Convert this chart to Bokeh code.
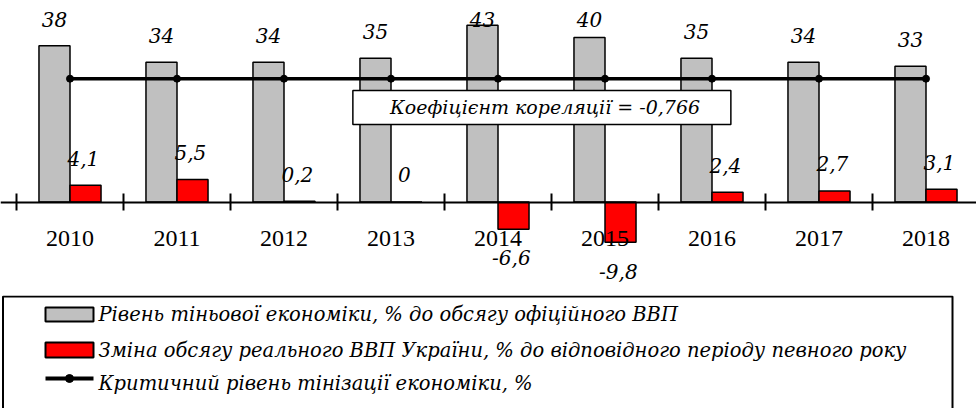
from bokeh.plotting import figure
from bokeh.models import Range1d, LinearAxis, FixedTicker, ColumnDataSource
from bokeh.layouts import column
from bokeh.core.properties import value
from bokeh.embed import file_html
from bokeh.resources import INLINE

# ---------------- data ----------------
years = ["2010", "2011", "2012", "2013", "2014", "2015", "2016", "2017", "2018"]
shadow_level = [38, 34, 34, 35, 43, 40, 35, 34, 33]
gdp_change = [4.1, 5.5, 0.2, 0, -6.6, -9.8, 2.4, 2.7, 3.1]
critical_level = [30, 30, 30, 30, 30, 30, 30, 30, 30]
correlation_text = "Коефіцієнт кореляції = -0,766"
legend_labels = [
    "Рівень тіньової економіки, % до обсягу офіційного ВВП",
    "Зміна обсягу реального ВВП України, % до відповідного періоду певного року",
    "Критичний рівень тінізації економіки, %",
]

# ---------------- layout constants ----------------
W = 976
H_CHART = 295
H_LEG = 113
PX_PER_CAT = 107.0
PX_PER_UNIT = 4.11
ZERO_PX = 201.5
FIRST_EDGE_PX = 16.0
BAR_W = 0.29
GRAY = "#C0C0C0"
RED = "#FF0000"
IFONT = value("DejaVu Serif")

def fmt(v):
    return ("%g" % v).replace(".", ",")

n = len(years)
centers = [i + 0.5 for i in range(n)]
edges = [float(i) for i in range(n + 1)]
gray_x = [c - BAR_W / 2 for c in centers]
red_x = [c + BAR_W / 2 for c in centers]

x0 = -FIRST_EDGE_PX / PX_PER_CAT
x1 = x0 + W / PX_PER_CAT
y1 = ZERO_PX / PX_PER_UNIT
y0 = -(H_CHART - ZERO_PX) / PX_PER_UNIT

p = figure(width=W, height=H_CHART, x_range=Range1d(x0, x1), y_range=Range1d(y0, y1),
           output_backend="svg", toolbar_location=None, min_border=0,
           x_axis_location=None, y_axis_location=None,
           outline_line_color=None, background_fill_color="white",
           border_fill_color="white")
p.grid.visible = False

src = ColumnDataSource(dict(
    gx=gray_x, rx=red_x, cx=centers, shadow=shadow_level, gdp=gdp_change,
    crit=critical_level,
    slab=[fmt(v) for v in shadow_level],
    glab=[fmt(v) for v in gdp_change],
    sy=[min(v + 6.5, y1 - 4.6) for v in shadow_level],
    gy=[v + 6.6 if v >= 0 else v - 7.0 for v in gdp_change],
    glx=[x - 0.02 for x in red_x],
))

p.vbar(x="gx", top="shadow", bottom=0, width=BAR_W, source=src,
       fill_color=GRAY, line_color="black", line_width=1.5)
p.vbar(x="rx", top="gdp", bottom=0, width=BAR_W, source=src,
       fill_color=RED, line_color="black", line_width=1.5)
p.line(x="cx", y="crit", source=src, line_color="black", line_width=3.5)
p.scatter(x="cx", y="crit", source=src, size=7, color="black")

# correlation box
box_x = 4.91
box_y = 23.0
p.rect(x=[box_x], y=[box_y], width=378, height=34, width_units="screen",
       height_units="screen", fill_color="white", line_color="black", line_width=1.5)
p.text(x=[box_x + 0.03], y=[box_y], text=[correlation_text], text_font=IFONT,
       text_font_style="italic", text_font_size="19px", text_align="center",
       text_baseline="middle", text_color="black")

# value labels
p.text(x="gx", y="sy", text="slab", source=src, text_font=IFONT,
       text_font_style="italic", text_font_size="20px", text_align="center",
       text_baseline="middle", text_color="black")
p.text(x="glx", y="gy", text="glab", source=src, text_font=IFONT,
       text_font_style="italic", text_font_size="20px", text_align="center",
       text_baseline="middle", text_color="black")

# category axis at zero
ax = LinearAxis(ticker=FixedTicker(ticks=centers, minor_ticks=edges), fixed_location=0)
ax.major_label_overrides = {float(c): y for c, y in zip(centers, years)}
ax.axis_line_color = "black"
ax.axis_line_width = 2
ax.major_tick_line_color = None
ax.major_tick_in = 0
ax.major_tick_out = 0
ax.minor_tick_line_color = "black"
ax.minor_tick_line_width = 2
ax.minor_tick_in = 9
ax.minor_tick_out = 8
ax.major_label_standoff = 21
ax.major_label_text_font = "Liberation Serif"
ax.major_label_text_font_size = "24px"
ax.major_label_text_color = "black"
p.add_layout(ax, "below")

# ---------------- legend figure (coordinates = page pixels) ----------------
q = figure(width=W, height=H_LEG, x_range=Range1d(0, W),
           y_range=Range1d(H_CHART + H_LEG, H_CHART),
           output_backend="svg", toolbar_location=None, min_border=0,
           x_axis_location=None, y_axis_location=None,
           outline_line_color=None, background_fill_color="white",
           border_fill_color="white")
q.grid.visible = False

q.quad(left=[2.5], right=[952], top=[296], bottom=[440], fill_color="white",
       line_color="black", line_width=2)
q.quad(left=[45], right=[93], top=[307], bottom=[321], fill_color=GRAY,
       line_color="black", line_width=2)
q.quad(left=[45], right=[93], top=[342], bottom=[357], fill_color=RED,
       line_color="black", line_width=2)
q.line(x=[45, 93], y=[378, 378], line_color="black", line_width=4)
q.scatter(x=[69], y=[378], size=8, color="black")
q.text(x=[98, 98, 98], y=[314, 350, 383], text=legend_labels, text_font=IFONT,
       text_font_style="italic", text_font_size="19.5px", text_align="left",
       text_baseline="middle", text_color="black")

layout = column(p, q, spacing=0)
open("out.html", "w").write(file_html(layout, INLINE))
